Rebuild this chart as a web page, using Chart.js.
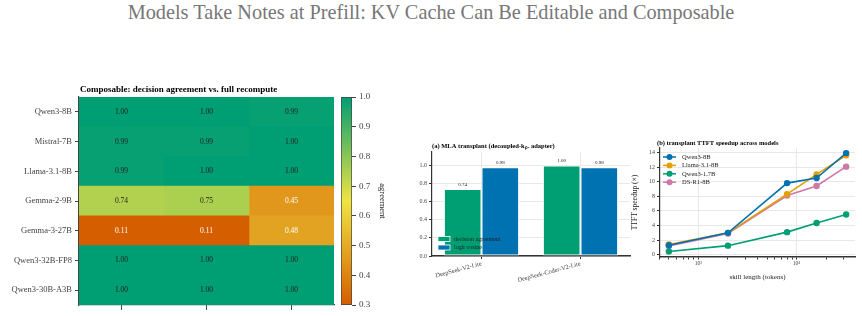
<!DOCTYPE html>
<html>
<head>
<meta charset="utf-8">
<script src="https://cdn.jsdelivr.net/npm/chart.js@4.4.0/dist/chart.umd.min.js"></script>
<style>
html, body { margin: 0; padding: 0; background: #fff; }
body { width: 862px; height: 316px; position: relative; overflow: hidden; font-family: 'Liberation Serif', serif; }
#title { position: absolute; left: 0; top: 1px; width: 862px; text-align: center; font-size: 20.3px; color: #777; }
canvas { position: absolute; }
</style>
</head>
<body>
<div id="title">Models Take Notes at Prefill: KV Cache Can Be Editable and Composable</div>
<canvas id="heat" width="336" height="232" style="left:0;top:84px"></canvas>
<canvas id="cbar" width="52" height="232" style="left:336px;top:84px"></canvas>
<canvas id="barA" width="232" height="180" style="left:400px;top:136px"></canvas>
<canvas id="lineB" width="232" height="149" style="left:630px;top:136px"></canvas>
<script>
// 热力图数据：每列一组，行为模型
const models = ['Qwen3-8B', 'Mistral-7B', 'Llama-3.1-8B', 'Gemma-2-9B', 'Gemma-3-27B', 'Qwen3-32B-FP8', 'Qwen3-30B-A3B'];
const agreeCol1 = [1.00, 0.99, 0.99, 0.74, 0.11, 1.00, 1.00];
const agreeCol2 = [1.00, 0.99, 1.00, 0.75, 0.11, 1.00, 1.00];
const agreeCol3 = [0.99, 1.00, 1.00, 0.45, 0.48, 1.00, 1.00];
const heatCols = [agreeCol1, agreeCol2, agreeCol3];
const cbTicks = [0.3, 0.4, 0.5, 0.6, 0.7, 0.8, 0.9, 1.0];

// (a) MLA transplant
const mlaModels = ['DeepSeek-V2-Lite', 'DeepSeek-Coder-V2-Lite'];
const mlaDecision = [0.74, 1.00];
const mlaLogit = [0.98, 0.98];
const barTicks = [0, 0.2, 0.4, 0.6, 0.8, 1.0];

// (b) TTFT speedup
const skillLen = [500, 2000, 8000, 16000, 32000];
const spQwen8 = [1.3, 3.0, 9.8, 10.5, 13.9];
const spLlama = [1.4, 3.0, 8.3, 11.0, 13.6];
const spQwen17 = [0.45, 1.25, 3.1, 4.35, 5.5];
const spDsr1 = [1.2, 2.9, 8.1, 9.4, 12.05];
const speedTicks = [0, 2, 4, 6, 8, 10, 12, 14];
const logMajor = [1000, 10000];
const logMinor = [400, 500, 600, 700, 800, 900, 2000, 3000, 4000, 5000, 6000, 7000, 8000, 9000, 20000, 30000];

const SERIF = "'Liberation Serif', serif";
Chart.defaults.font.family = SERIF;
Chart.defaults.color = '#444';
Chart.defaults.animation = false;

// 颜色映射：橙 -> 黄 -> 绿
const cmapMin = 0.3, cmapMax = 1.0;
const cmapStops = [[0, [213, 94, 0]], [0.5, [240, 228, 66]], [1, [0, 158, 115]]];
function cmap(v) {
    let t = (v - cmapMin) / (cmapMax - cmapMin);
    t = Math.max(0, Math.min(1, t));
    for (let k = 1; k < cmapStops.length; k++) {
        const [t1, c1] = cmapStops[k];
        const [t0, c0] = cmapStops[k - 1];
        if (t <= t1) {
            const f = (t - t0) / (t1 - t0);
            const c = c0.map((x, i) => Math.round(x + (c1[i] - x) * f));
            return `rgb(${c[0]},${c[1]},${c[2]})`;
        }
    }
    return 'rgb(0,158,115)';
}

// 子图标题
const panelTitle = {
    id: 'panelTitle',
    afterDraw(chart, args, opts) {
        if (!opts.text) return;
        const ctx = chart.ctx;
        ctx.save();
        ctx.font = `bold ${opts.size}px ${SERIF}`;
        ctx.fillStyle = '#000';
        ctx.textAlign = 'left';
        ctx.textBaseline = 'alphabetic';
        ctx.fillText(opts.text, chart.chartArea.left + (opts.dx || 0), chart.chartArea.top - (opts.dy || 4));
        ctx.restore();
    }
};

const cellLabels = {
    id: 'cellLabels',
    afterDatasetsDraw(chart) {
        const ctx = chart.ctx;
        ctx.save();
        ctx.font = `7.5px ${SERIF}`;
        ctx.textAlign = 'center';
        ctx.textBaseline = 'middle';
        heatCols.forEach((col, j) => {
            chart.getDatasetMeta(j).data.forEach((el, i) => {
                ctx.fillStyle = col[i] >= 0.6 ? '#222' : '#fff';
                ctx.fillText(col[i].toFixed(2), (el.x + el.base) / 2, el.y);
            });
        });
        ctx.restore();
    }
};

new Chart(document.getElementById('heat'), {
    type: 'bar',
    data: {
        labels: models,
        datasets: heatCols.map((col, j) => ({
            data: col.map(() => [j, j + 1]),
            backgroundColor: col.map(v => cmap(v)),
            borderWidth: 0,
            grouped: false,
            barPercentage: 1,
            categoryPercentage: 1
        }))
    },
    options: {
        indexAxis: 'y',
        responsive: false,
        layout: { padding: { top: 13, right: 2 } },
        plugins: {
            legend: { display: false },
            tooltip: { enabled: false },
            panelTitle: { text: 'Composable: decision agreement vs. full recompute', size: 9, dy: 5, dx: 1 }
        },
        scales: {
            x: {
                min: 0, max: 3,
                afterBuildTicks: s => { s.ticks = heatCols.map((c, j) => ({ value: j + 0.5 })); },
                afterFit: s => { s.height = 11; },
                ticks: { callback: () => '' },
                grid: { drawOnChartArea: false, color: '#444', tickLength: 5 },
                border: { color: '#444', width: 1.2 }
            },
            y: {
                afterFit: s => { s.width = 79; },
                ticks: { color: '#444', font: { size: 8.5 }, padding: 3 },
                grid: { drawOnChartArea: false, offset: false, color: '#444', tickLength: 4 },
                border: { color: '#444', width: 1.2 }
            }
        }
    },
    plugins: [cellLabels, panelTitle]
});

// 颜色条
new Chart(document.getElementById('cbar'), {
    type: 'bar',
    data: {
        labels: ['agreement'],
        datasets: [{
            data: [[cmapMin, cmapMax]],
            backgroundColor: (c) => {
                const chart = c.chart;
                const ys = chart.scales.y;
                if (!ys || !chart.chartArea) return cmap(cmapMax);
                const g = chart.ctx.createLinearGradient(0, ys.getPixelForValue(cmapMin), 0, ys.getPixelForValue(cmapMax));
                for (let k = 0; k <= 20; k++) {
                    g.addColorStop(k / 20, cmap(cmapMin + (cmapMax - cmapMin) * k / 20));
                }
                return g;
            },
            borderColor: '#444',
            borderWidth: 1,
            borderSkipped: false,
            barPercentage: 1,
            categoryPercentage: 1
        }]
    },
    options: {
        responsive: false,
        layout: { padding: { top: 13, bottom: 11, left: 5 } },
        plugins: { legend: { display: false }, tooltip: { enabled: false } },
        scales: {
            x: { display: false },
            y: {
                position: 'right',
                min: cmapMin, max: cmapMax,
                afterBuildTicks: s => { s.ticks = cbTicks.map(v => ({ value: v })); },
                afterFit: s => { s.width = 36; },
                ticks: { color: '#444', font: { size: 9 }, padding: 3, callback: v => v.toFixed(1) },
                grid: { drawOnChartArea: false, color: '#444', tickLength: 4 },
                border: { display: false },
                title: { display: true, text: 'agreement', color: '#222', font: { size: 8.5 }, padding: 1 }
            }
        }
    }
});

// 柱状图数值标签
const barValues = {
    id: 'barValues',
    afterDatasetsDraw(chart) {
        const ctx = chart.ctx;
        ctx.save();
        ctx.font = `5px ${SERIF}`;
        ctx.fillStyle = '#222';
        ctx.textAlign = 'center';
        ctx.textBaseline = 'bottom';
        chart.data.datasets.forEach((ds, j) => {
            chart.getDatasetMeta(j).data.forEach((el, i) => {
                ctx.fillText(ds.data[i].toFixed(2), el.x, el.y - 2);
            });
        });
        ctx.restore();
    }
};

// 图例 (a)：左下角
const legendA = {
    id: 'legendA',
    afterDraw(chart) {
        const ctx = chart.ctx;
        const a = chart.chartArea;
        ctx.save();
        ctx.font = `6px ${SERIF}`;
        ctx.textBaseline = 'middle';
        chart.data.datasets.forEach((ds, k) => {
            const y = a.bottom - 17 + k * 8.5;
            ctx.fillStyle = ds.backgroundColor;
            ctx.fillRect(a.left + 6, y - 2.5, 12, 5);
            ctx.strokeStyle = '#fff';
            ctx.lineWidth = 0.8;
            ctx.strokeRect(a.left + 6, y - 2.5, 12, 5);
            ctx.fillStyle = '#222';
            ctx.fillText(ds.label, a.left + 22, y);
        });
        ctx.restore();
    }
};

new Chart(document.getElementById('barA'), {
    type: 'bar',
    data: {
        labels: mlaModels,
        datasets: [
            { label: 'decision agreement', data: mlaDecision, backgroundColor: '#009E73', borderColor: '#fff', borderWidth: 1, borderSkipped: false },
            { label: 'logit cosine', data: mlaLogit, backgroundColor: '#0072B2', borderColor: '#fff', borderWidth: 1, borderSkipped: false }
        ]
    },
    options: {
        responsive: false,
        categoryPercentage: 0.76,
        barPercentage: 1,
        layout: { padding: { top: 16, right: 2 } },
        plugins: {
            legend: { display: false },
            tooltip: { enabled: false },
            panelTitle: { text: '(a) MLA transplant (decoupled-kₚₑ adapter)', size: 6.5, dy: 4 }
        },
        scales: {
            x: {
                afterFit: s => { s.height = 60; },
                ticks: { color: '#444', font: { size: 6.3 }, minRotation: 15, maxRotation: 15, padding: 1 },
                grid: { color: '#e8e8e8', offset: false, tickColor: '#333', tickLength: 3 },
                border: { color: '#333', width: 1.5 }
            },
            y: {
                min: 0, max: 1.15,
                afterBuildTicks: s => { s.ticks = barTicks.map(v => ({ value: v })); },
                afterFit: s => { s.width = 32; },
                ticks: { color: '#444', font: { size: 6 }, padding: 2, callback: v => v.toFixed(1) },
                grid: { color: '#e8e8e8', tickColor: '#333', tickLength: 3 },
                border: { color: '#333', width: 1.2 }
            }
        }
    },
    plugins: [barValues, legendA, panelTitle]
});

// 图例 (b)：左上角，线+点
const legendB = {
    id: 'legendB',
    afterDraw(chart) {
        const ctx = chart.ctx;
        const a = chart.chartArea;
        ctx.save();
        ctx.font = `6.5px ${SERIF}`;
        ctx.textBaseline = 'middle';
        chart.data.datasets.forEach((ds, k) => {
            const y = a.top + 9 + k * 8.4;
            const x0 = a.left + 3;
            ctx.strokeStyle = ds.borderColor;
            ctx.lineWidth = 1.5;
            ctx.beginPath();
            ctx.moveTo(x0, y);
            ctx.lineTo(x0 + 13, y);
            ctx.stroke();
            ctx.fillStyle = ds.borderColor;
            ctx.beginPath();
            ctx.arc(x0 + 6.5, y, 3, 0, Math.PI * 2);
            ctx.fill();
            ctx.fillStyle = '#222';
            ctx.fillText(ds.label, x0 + 19, y);
        });
        ctx.restore();
    }
};

const lineDs = (label, data, color) => ({
    label, data: data.map((v, i) => ({ x: skillLen[i], y: v })),
    borderColor: color, backgroundColor: color,
    borderWidth: 1.6, pointRadius: 3.2, pointBorderWidth: 0, tension: 0
});

new Chart(document.getElementById('lineB'), {
    type: 'line',
    data: {
        datasets: [
            lineDs('Qwen3-8B', spQwen8, '#0072B2'),
            lineDs('Llama-3.1-8B', spLlama, '#E69F00'),
            lineDs('Qwen3-1.7B', spQwen17, '#009E73'),
            lineDs('DS-R1-8B', spDsr1, '#CC79A7')
        ]
    },
    options: {
        responsive: false,
        layout: { padding: { top: 12, right: 7 } },
        plugins: {
            legend: { display: false },
            tooltip: { enabled: false },
            panelTitle: { text: '(b) transplant TTFT speedup across models', size: 6.5, dy: 3, dx: -3 }
        },
        scales: {
            x: {
                type: 'logarithmic',
                min: 406, max: 39400,
                afterBuildTicks: s => {
                    s.ticks = logMinor.concat(logMajor).sort((p, q) => p - q).map(v => ({ value: v, major: logMajor.includes(v) }));
                },
                afterFit: s => { s.height = 28; },
                ticks: {
                    autoSkip: false, maxRotation: 0, color: '#444', font: { size: 5.5 }, padding: 1,
                    callback: v => v === 1000 ? '10³' : (v === 10000 ? '10⁴' : '')
                },
                grid: {
                    color: c => (c.tick && logMajor.includes(c.tick.value)) ? '#e8e8e8' : 'rgba(0,0,0,0)',
                    tickColor: '#333', tickLength: 2.5
                },
                border: { color: '#333', width: 1.5 },
                title: { display: true, text: 'skill length (tokens)', color: '#222', font: { size: 7 }, padding: { top: 2, bottom: 4 } }
            },
            y: {
                min: -0.3, max: 14.6,
                afterBuildTicks: s => { s.ticks = speedTicks.map(v => ({ value: v })); },
                afterFit: s => { s.width = 30; },
                ticks: { color: '#444', font: { size: 6 }, padding: 2 },
                grid: { color: '#e8e8e8', tickColor: '#333', tickLength: 3 },
                border: { color: '#333', width: 1.2 },
                title: { display: true, text: 'TTFT speedup (×)', color: '#222', font: { size: 7.5 }, padding: 1 }
            }
        }
    },
    plugins: [legendB, panelTitle]
});
</script>
</body>
</html>
